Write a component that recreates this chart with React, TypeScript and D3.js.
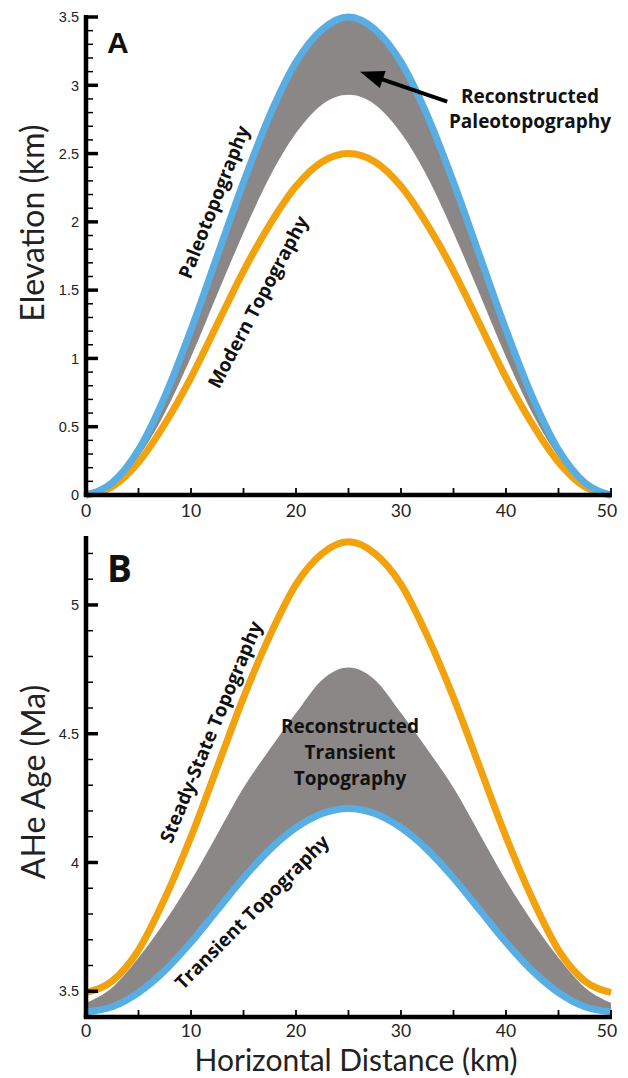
import React from 'react';
import * as d3 from 'd3';

// horizontal distance along the profile (km)
const distanceKm = [0, 2.5, 5, 7.5, 10, 12.5, 15, 17.5, 20, 22.5, 25, 27.5, 30, 32.5, 35, 37.5, 40, 42.5, 45, 47.5, 50];

// panel A, elevation (km)
const paleotopography = [0, 0.09, 0.33, 0.72, 1.21, 1.75, 2.29, 2.78, 3.17, 3.41, 3.5, 3.41, 3.17, 2.78, 2.29, 1.75, 1.21, 0.72, 0.33, 0.09, 0];
const reconPaleoLow = [0, 0.07, 0.28, 0.6, 1.01, 1.47, 1.92, 2.33, 2.65, 2.86, 2.93, 2.86, 2.65, 2.33, 1.92, 1.47, 1.01, 0.6, 0.28, 0.07, 0];
const modernTopography = [0, 0.06, 0.24, 0.52, 0.86, 1.25, 1.64, 1.98, 2.26, 2.44, 2.5, 2.44, 2.26, 1.98, 1.64, 1.25, 0.86, 0.52, 0.24, 0.06, 0];

// panel B, AHe age (Ma)
const steadyStateAge = [3.495, 3.54, 3.66, 3.86, 4.1, 4.37, 4.64, 4.88, 5.08, 5.2, 5.245, 5.2, 5.08, 4.88, 4.64, 4.37, 4.1, 3.86, 3.66, 3.54, 3.495];
const transientAge = [3.42, 3.44, 3.495, 3.58, 3.69, 3.815, 3.94, 4.05, 4.135, 4.19, 4.21, 4.19, 4.135, 4.05, 3.94, 3.815, 3.69, 3.58, 3.495, 3.44, 3.42];
const reconTransientHigh = [3.455, 3.515, 3.63, 3.77, 3.93, 4.11, 4.29, 4.44, 4.58, 4.71, 4.757, 4.71, 4.58, 4.44, 4.29, 4.11, 3.93, 3.77, 3.63, 3.515, 3.455];

// tick labels
const elevationTicks = [0, 0.5, 1, 1.5, 2, 2.5, 3, 3.5];
const ageTicks = [3.5, 4, 4.5, 5];
const distanceTicks = [0, 10, 20, 30, 40, 50];
const distanceMinor = [5, 15, 25, 35, 45];

const BLUE = '#58aee3';
const ORANGE = '#f2a20d';
const GRAY = '#8a8786';
const INK = '#111';
const TICK_FONT = "'Liberation Sans', Arial, sans-serif";
const LABEL_FONT = "'Open Sans', sans-serif";
const TITLE_FONT = "Lato, 'Open Sans', sans-serif";

const width = 628;
const height = 1078;

const x = d3.scaleLinear().domain([0, 50]).range([86, 611]);
const yA = d3.scaleLinear().domain([0, 3.5]).range([495, 17]);
const yB = d3.scaleLinear().domain([3.4, 5.26]).range([1017, 538]);

const idx = distanceKm.map((_, i) => i);

const lineOf = (y, vals) =>
  d3.line().x((i) => x(distanceKm[i])).y((i) => y(vals[i])).curve(d3.curveMonotoneX)(idx);

const bandOf = (y, lo, hi) =>
  d3.area().x((i) => x(distanceKm[i])).y0((i) => y(lo[i])).y1((i) => y(hi[i])).curve(d3.curveMonotoneX)(idx);

const Axes = ({ y, majors, minorStep, labelGap }) => {
  const [y0, y1] = y.domain();
  const bottom = y.range()[0];
  const top = y.range()[1];
  const minors = d3.range(Math.ceil(y0 * 10 - 1e-6) / 10, y1 + 1e-6, minorStep)
    .filter((v) => !majors.some((m) => Math.abs(m - v) < 1e-6) && Math.abs(v - y0) > 1e-6);
  return (
    <g>
      {minors.map((v) => (
        <line key={'m' + v} x1={x(0)} x2={x(0) + 7} y1={y(v)} y2={y(v)} stroke="#000" strokeWidth={1.5} />
      ))}
      {majors.map((v) => (
        <g key={'M' + v}>
          <line x1={x(0)} x2={x(0) + 12} y1={y(v)} y2={y(v)} stroke="#000" strokeWidth={3.5} />
          <text x={x(0) - 7} y={y(v)} dy="0.36em" textAnchor="end" fontFamily={TICK_FONT} fontSize={14.5} fill="#222">
            {String(v)}
          </text>
        </g>
      ))}
      {distanceTicks.concat(distanceMinor).map((v) => (
        <line key={'x' + v} x1={x(v)} x2={x(v)} y1={bottom} y2={bottom - 7} stroke="#000" strokeWidth={1.8} />
      ))}
      {distanceTicks.map((v) => (
        <text key={'xl' + v} x={x(v) - (v === 50 ? 4 : 0)} y={bottom + labelGap} textAnchor="middle" fontFamily={TITLE_FONT} fontSize={17.5} fill="#222">
          {v}
        </text>
      ))}
      <line x1={x(0)} x2={x(0)} y1={top - 2} y2={bottom} stroke="#000" strokeWidth={4.5} />
      <line x1={x(0) - 2.25} x2={x(50) + 1} y1={bottom} y2={bottom} stroke="#000" strokeWidth={4.5} />
    </g>
  );
};

const Arrow = ({ from, to }) => {
  const [x1, y1] = [x(from[0]), yA(from[1])];
  const [x2, y2] = [x(to[0]), yA(to[1])];
  const len = Math.hypot(x2 - x1, y2 - y1);
  const ux = (x2 - x1) / len;
  const uy = (y2 - y1) / len;
  const head = 24;
  const half = 9;
  const bx = x2 - ux * head;
  const by = y2 - uy * head;
  const pts = [
    [x2, y2],
    [bx - uy * half, by + ux * half],
    [bx + uy * half, by - ux * half],
  ];
  return (
    <g>
      <line x1={x1} y1={y1} x2={bx + ux * 2} y2={by + uy * 2} stroke="#000" strokeWidth={4} />
      <polygon points={pts.map((p) => p.join(',')).join(' ')} fill="#000" />
    </g>
  );
};

const curveLabel = (text, cx, cy, angle) => (
  <text
    transform={`translate(${cx},${cy}) rotate(${angle})`}
    textAnchor="middle"
    dy="0.35em"
    fontFamily={LABEL_FONT}
    fontWeight={700}
    fontSize={19}
    fill={INK}
  >
    {text}
  </text>
);

export default function App() {
  return (
    <svg
      width={width}
      height={height}
      viewBox={`0 0 ${width} ${height}`}
      style={{ position: 'absolute', left: 0, top: 0, display: 'block', background: '#fff' }}
    >
      {/* panel A */}
      <path d={bandOf(yA, reconPaleoLow, paleotopography)} fill={GRAY} />
      <path d={lineOf(yA, modernTopography)} fill="none" stroke={ORANGE} strokeWidth={7} />
      <path d={lineOf(yA, paleotopography)} fill="none" stroke={BLUE} strokeWidth={7} />
      <Axes y={yA} majors={elevationTicks} minorStep={0.1} labelGap={22} />
      <text x={107} y={53} fontFamily={TICK_FONT} fontWeight={700} fontSize={30} fill={INK}>A</text>
      {curveLabel('Paleotopography', 214, 202, -68.5)}
      {curveLabel('Modern Topography', 258, 302, -62)}
      <Arrow from={[34.4, 2.88]} to={[26.1, 3.1]} />
      <text x={530} y={103} textAnchor="middle" fontFamily={LABEL_FONT} fontWeight={700} fontSize={19} fill={INK}>Reconstructed</text>
      <text x={530} y={128} textAnchor="middle" fontFamily={LABEL_FONT} fontWeight={700} fontSize={19} fill={INK}>Paleotopography</text>
      <text transform="translate(44,223) rotate(-90)" textAnchor="middle" fontFamily={TITLE_FONT} fontSize={32} fill="#222">
        Elevation (km)
      </text>

      {/* panel B */}
      <path d={bandOf(yB, transientAge, reconTransientHigh)} fill={GRAY} />
      <path d={lineOf(yB, steadyStateAge)} fill="none" stroke={ORANGE} strokeWidth={7} />
      <path d={lineOf(yB, transientAge)} fill="none" stroke={BLUE} strokeWidth={7} />
      <Axes y={yB} majors={ageTicks} minorStep={0.1} labelGap={20} />
      <text x={107} y={582} fontFamily={LABEL_FONT} fontWeight={700} fontSize={37} fill={INK}>B</text>
      {curveLabel('Steady-State Topography', 211, 732, -67.5)}
      {curveLabel('Transient Topography', 252, 912, -45)}
      {['Reconstructed', 'Transient', 'Topography'].map((t, i) => (
        <text key={t} x={350} y={733 + i * 26} textAnchor="middle" fontFamily={LABEL_FONT} fontWeight={700} fontSize={19} fill={INK}>
          {t}
        </text>
      ))}
      <text transform="translate(45,782) rotate(-90)" textAnchor="middle" fontFamily={TITLE_FONT} fontSize={32} fill="#222">
        AHe Age (Ma)
      </text>
      <text x={356} y={1071} textAnchor="middle" fontFamily={TITLE_FONT} fontSize={30} fill="#222">
        Horizontal Distance (km)
      </text>
    </svg>
  );
}
